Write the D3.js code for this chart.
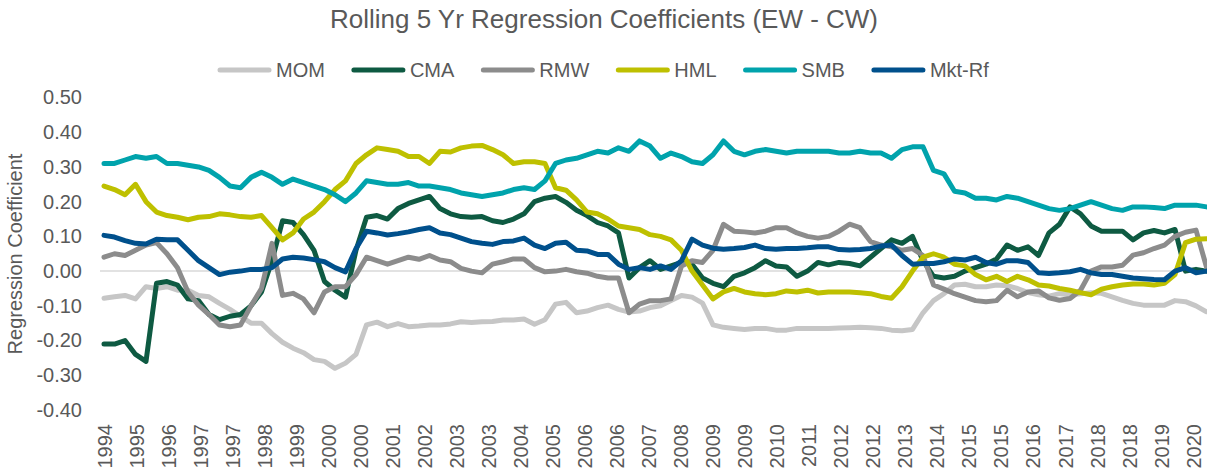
<!DOCTYPE html>
<html>
<head>
<meta charset="utf-8">
<script src="https://cdn.jsdelivr.net/npm/d3@7"></script>
<style>
  body { margin: 0; background: #fff; }
  svg { display: block; font-family: "Liberation Sans", Arial, sans-serif; }
</style>
</head>
<body>
<div id="chart"></div>
<script>
// roughly quarterly samples of the rolling coefficients
const seriesNames = ["MOM", "CMA", "RMW", "HML", "SMB", "Mkt-Rf"];
const seriesColors = ["#C6C6C6", "#0E5A42", "#8C8C8C", "#BEC000", "#00A3AC", "#00508C"];

const mom = [
  -0.078,-0.074,-0.07,-0.08,-0.045,-0.05,-0.045,-0.055,-0.055,-0.07,
  -0.074,-0.093,-0.11,-0.13,-0.15,-0.15,-0.18,-0.205,-0.222,-0.235,
  -0.255,-0.26,-0.28,-0.265,-0.24,-0.155,-0.147,-0.16,-0.151,-0.16,
  -0.158,-0.155,-0.155,-0.152,-0.146,-0.148,-0.146,-0.145,-0.141,-0.141,
  -0.138,-0.153,-0.14,-0.095,-0.09,-0.12,-0.115,-0.105,-0.098,-0.11,
  -0.118,-0.115,-0.105,-0.1,-0.085,-0.07,-0.075,-0.092,-0.155,-0.162,
  -0.165,-0.168,-0.165,-0.165,-0.17,-0.17,-0.165,-0.165,-0.165,-0.165,
  -0.164,-0.163,-0.162,-0.163,-0.165,-0.17,-0.172,-0.168,-0.12,-0.085,
  -0.065,-0.04,-0.038,-0.045,-0.045,-0.04,-0.042,-0.05,-0.062,-0.068,
  -0.072,-0.065,-0.068,-0.065,-0.062,-0.064,-0.074,-0.084,-0.093,-0.098,
  -0.098,-0.098,-0.085,-0.088,-0.1,-0.117
];
const cma = [
  -0.21,-0.21,-0.2,-0.24,-0.26,-0.035,-0.03,-0.04,-0.08,-0.085,
  -0.125,-0.14,-0.13,-0.125,-0.1,-0.06,0.03,0.145,0.14,0.105,
  0.06,-0.03,-0.055,-0.075,0.06,0.155,0.16,0.15,0.18,0.195,
  0.205,0.215,0.18,0.165,0.157,0.155,0.157,0.145,0.14,0.15,
  0.165,0.2,0.21,0.215,0.198,0.175,0.16,0.14,0.13,0.11,
  -0.02,0.01,0.03,0.005,0.015,0.025,0.02,-0.02,-0.035,-0.045,
  -0.015,-0.005,0.01,0.03,0.015,0.012,-0.015,0.0,0.025,0.018,
  0.025,0.022,0.015,0.04,0.065,0.09,0.08,0.1,0.03,-0.015,
  -0.02,-0.015,0.0,0.01,0.02,0.035,0.075,0.06,0.07,0.045,
  0.11,0.135,0.185,0.165,0.13,0.115,0.115,0.115,0.09,0.11,
  0.117,0.11,0.12,0.0,0.005,0.0
];
const rmw = [
  0.04,0.05,0.045,0.06,0.075,0.082,0.05,0.01,-0.06,-0.098,
  -0.125,-0.155,-0.16,-0.155,-0.1,-0.05,0.08,-0.07,-0.064,-0.08,
  -0.12,-0.06,-0.045,-0.045,-0.01,0.04,0.03,0.02,0.03,0.04,
  0.034,0.045,0.032,0.027,0.008,0.0,-0.005,0.02,0.027,0.035,
  0.035,0.01,-0.002,0.0,0.005,-0.002,-0.006,-0.015,-0.02,-0.02,
  -0.12,-0.095,-0.085,-0.085,-0.08,0.015,0.03,0.025,0.06,0.135,
  0.115,0.113,0.11,0.115,0.125,0.125,0.11,0.1,0.095,0.1,
  0.115,0.135,0.125,0.085,0.075,0.07,0.06,0.065,0.045,-0.04,
  -0.052,-0.065,-0.075,-0.085,-0.088,-0.085,-0.055,-0.074,-0.06,-0.057,
  -0.077,-0.084,-0.079,-0.055,0.0,0.012,0.012,0.017,0.046,0.053,
  0.065,0.075,0.1,0.112,0.118,0.012
];
const hml = [
  0.245,0.235,0.22,0.25,0.2,0.17,0.16,0.155,0.148,0.155,
  0.157,0.165,0.162,0.157,0.155,0.16,0.125,0.09,0.11,0.15,
  0.17,0.2,0.235,0.26,0.31,0.335,0.355,0.35,0.345,0.33,
  0.33,0.31,0.345,0.343,0.355,0.36,0.362,0.35,0.335,0.31,
  0.315,0.315,0.31,0.24,0.233,0.205,0.17,0.165,0.15,0.13,
  0.125,0.12,0.105,0.1,0.09,0.06,0.0,-0.04,-0.08,-0.06,
  -0.05,-0.06,-0.065,-0.068,-0.065,-0.057,-0.06,-0.055,-0.063,-0.06,
  -0.06,-0.06,-0.062,-0.065,-0.073,-0.078,-0.045,0.0,0.04,0.05,
  0.04,0.02,0.015,-0.01,-0.025,-0.015,-0.03,-0.015,-0.025,-0.04,
  -0.043,-0.05,-0.055,-0.062,-0.068,-0.052,-0.045,-0.04,-0.037,-0.037,
  -0.04,-0.035,-0.01,0.082,0.092,0.093
];
const smb = [
  0.31,0.31,0.32,0.33,0.325,0.33,0.31,0.31,0.305,0.3,
  0.29,0.27,0.245,0.24,0.27,0.285,0.27,0.25,0.265,0.255,
  0.245,0.235,0.22,0.2,0.225,0.26,0.255,0.25,0.25,0.255,
  0.245,0.245,0.24,0.235,0.225,0.22,0.215,0.22,0.225,0.235,
  0.24,0.235,0.26,0.31,0.32,0.325,0.335,0.345,0.34,0.355,
  0.345,0.375,0.36,0.325,0.34,0.33,0.315,0.31,0.335,0.375,
  0.345,0.335,0.345,0.35,0.345,0.34,0.345,0.345,0.345,0.345,
  0.34,0.34,0.345,0.34,0.34,0.325,0.35,0.358,0.358,0.29,
  0.28,0.23,0.225,0.21,0.21,0.205,0.215,0.21,0.2,0.19,
  0.18,0.175,0.18,0.19,0.2,0.19,0.18,0.175,0.185,0.185,
  0.183,0.18,0.19,0.19,0.19,0.185
];
const mktRf = [
  0.103,0.098,0.088,0.08,0.078,0.092,0.09,0.09,0.06,0.03,
  0.01,-0.01,-0.003,0.0,0.005,0.005,0.01,0.035,0.04,0.038,
  0.033,0.027,0.01,-0.002,0.065,0.115,0.11,0.104,0.108,0.113,
  0.12,0.125,0.11,0.105,0.095,0.085,0.08,0.077,0.085,0.087,
  0.095,0.075,0.065,0.08,0.083,0.06,0.058,0.048,0.048,0.02,
  0.005,0.01,0.005,0.015,0.005,0.03,0.092,0.075,0.066,0.063,
  0.065,0.068,0.075,0.065,0.063,0.065,0.065,0.067,0.07,0.07,
  0.062,0.061,0.062,0.065,0.072,0.075,0.045,0.02,0.022,0.022,
  0.027,0.035,0.032,0.04,0.025,0.02,0.03,0.03,0.025,-0.005,
  -0.007,-0.005,-0.002,0.005,-0.005,-0.01,-0.01,-0.015,-0.02,-0.022,
  -0.024,-0.025,0.0,0.01,-0.005,0.0
];

// category labels, one every 9 months
const tickLabels = [
  "1994","1995","1996","1997","1997","1998","1999","2000","2000","2001",
  "2002","2003","2003","2004","2005","2006","2006","2007","2008","2009",
  "2009","2010","2011","2012","2012","2013","2014","2015","2015","2016",
  "2017","2018","2018","2019","2020"
];
const yTicks = [-0.4, -0.3, -0.2, -0.1, 0, 0.1, 0.2, 0.3, 0.4, 0.5];
const sampleStep = 2.95;  // months between samples (about a quarter)
const labelStep = 9;      // months between labels

const allSeries = [mom, cma, rmw, hml, smb, mktRf];

const width = 1207, height = 476;
const plot = {left: 104, right: 1206.5, top: 97.5, bottom: 410};
const textColor = "#595959";

const svg = d3.select("#chart").append("svg")
  .attr("width", width)
  .attr("height", height);

const lastMonth = (mom.length - 1) * sampleStep;
const x = d3.scaleLinear().domain([0, lastMonth]).range([plot.left, plot.right]);
const y = d3.scaleLinear().domain([-0.4, 0.5]).range([plot.bottom, plot.top]);

// title
svg.append("text")
  .attr("x", 604)
  .attr("y", 28)
  .attr("text-anchor", "middle")
  .attr("fill", textColor)
  .style("font-size", "26px")
  .text("Rolling 5 Yr Regression Coefficients (EW - CW)");

// legend
const legend = svg.append("g").attr("class", "legend");
let lx = 218;
seriesNames.forEach((name, i) => {
  legend.append("line")
    .attr("x1", lx + 2).attr("x2", lx + 51)
    .attr("y1", 70).attr("y2", 70)
    .attr("stroke", seriesColors[i])
    .attr("stroke-width", 5)
    .attr("stroke-linecap", "round");
  const t = legend.append("text")
    .attr("x", lx + 58)
    .attr("y", 77)
    .attr("fill", textColor)
    .style("font-size", "20px")
    .text(name);
  lx += 58 + t.node().getComputedTextLength() + 27;
});

// y axis
const yAxis = svg.append("g")
  .attr("transform", `translate(82, 0)`)
  .call(d3.axisLeft(y).tickValues(yTicks).tickSize(0).tickPadding(0)
    .tickFormat(d => d.toFixed(2)));
yAxis.select(".domain").remove();
yAxis.selectAll("text")
  .attr("fill", textColor)
  .style("font-size", "20px")
  .style("font-family", "'Liberation Sans', Arial, sans-serif");

svg.append("text")
  .attr("transform", `translate(22, 254) rotate(-90)`)
  .attr("text-anchor", "middle")
  .attr("fill", textColor)
  .style("font-size", "20px")
  .text("Regression Coefficient");

// zero line
svg.append("line")
  .attr("x1", 100).attr("x2", width)
  .attr("y1", y(0)).attr("y2", y(0))
  .attr("stroke", "#D9D9D9")
  .attr("stroke-width", 1.5);

// x axis labels
const labelMonths = tickLabels.map((_, i) => i * labelStep);
const xAxis = svg.append("g")
  .attr("transform", `translate(0, 424)`)
  .call(d3.axisBottom(x).tickValues(labelMonths).tickSize(0)
    .tickFormat((d, i) => tickLabels[i]));
xAxis.select(".domain").remove();
xAxis.selectAll("text")
  .attr("x", 0)
  .attr("y", 0)
  .attr("dy", "0.35em")
  .attr("transform", "rotate(-90)")
  .attr("text-anchor", "end")
  .attr("fill", textColor)
  .style("font-size", "20px")
  .style("font-family", "'Liberation Sans', Arial, sans-serif");

// series lines
const line = d3.line()
  .x((d, i) => x(i * sampleStep))
  .y(d => y(d));

svg.append("g")
  .selectAll("path")
  .data(allSeries)
  .enter()
  .append("path")
  .attr("d", line)
  .attr("fill", "none")
  .attr("stroke", (d, i) => seriesColors[i])
  .attr("stroke-width", 5)
  .attr("stroke-linejoin", "round")
  .attr("stroke-linecap", "round");
</script>
</body>
</html>
